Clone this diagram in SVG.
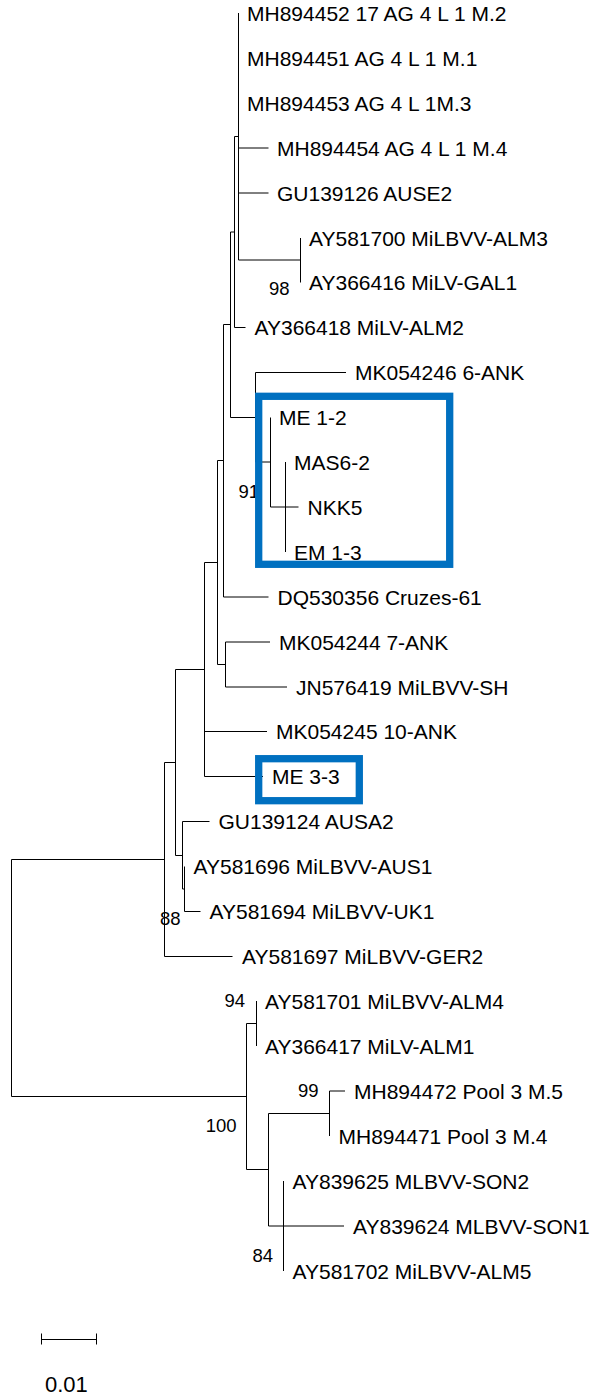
<svg xmlns="http://www.w3.org/2000/svg" width="596" height="1397" viewBox="0 0 596 1397">
<style>
.br{fill:none;stroke:#000;stroke-width:1}
.lb{font-family:"Liberation Sans",Arial,sans-serif;font-size:21px;fill:#000}
.bs{font-family:"Liberation Sans",Arial,sans-serif;font-size:18.5px;fill:#000}
.box{fill:none;stroke:#0070C0;stroke-width:7.3}
</style>
<rect width="596" height="1397" fill="#fff"/>
<g id="connectors" class="br">
<path d="M300.5,238V282.5"/>
<path d="M238.5,13V260M238.5,148H268.5M238.5,193H268.5M238.5,260H300.5"/>
<path d="M234.5,136.5H238.5M234.5,136.5V327.5H245.5"/>
<path d="M230.5,232H234.5M230.5,232V417.5"/>
<path d="M255.5,372.5V462M255.5,372.5H346M230.5,417.5H255.5"/>
<path d="M270.5,417.5V507M255.5,462H270.5"/>
<path d="M285.5,462V552M270.5,507H298.5"/>
<path d="M223.5,324.5V597M223.5,324.5H230.5M223.5,597H268.5"/>
<path d="M225.5,642V687M225.5,642H270M225.5,687H287"/>
<path d="M217.5,460.5V664.5M217.5,460.5H223.5M217.5,664.5H225.5"/>
<path d="M204.5,562.5V776.5M204.5,562.5H217.5M204.5,731.5H267M204.5,776.5H263"/>
<path d="M184.5,866.5V911.5M184.5,911.5H200.5"/>
<path d="M182.5,821.5V889M182.5,821.5H209.5M182.5,889H184.5"/>
<path d="M175.5,669.5V855.5M175.5,669.5H204.5M175.5,855.5H182.5"/>
<path d="M164.5,762.5V956.5M164.5,762.5H175.5M164.5,956.5H232.5"/>
<path d="M11.5,859.5V1096.5M11.5,859.5H164.5M11.5,1096.5H246.5"/>
<path d="M256.5,1001V1046M246.5,1023.5H256.5"/>
<path d="M329.5,1091V1136M329.5,1091H345"/>
<path d="M283.5,1181V1271M268.5,1226H344"/>
<path d="M268.5,1113.5V1226M268.5,1113.5H329.5"/>
<path d="M246.5,1023.5V1169.5M246.5,1169.5H268.5"/>
</g>
<g id="bootstrap" class="bs">
<text x="289.5" y="295" text-anchor="end">98</text>
<text x="238.5" y="498">91</text>
<text x="160" y="925">88</text>
<text x="245" y="1006.5" text-anchor="end">94</text>
<text x="318.5" y="1096.5" text-anchor="end">99</text>
<text x="236.5" y="1131.5" text-anchor="end">100</text>
<text x="273" y="1261.5" text-anchor="end">84</text>
</g>
<g id="leaves" class="lb">
<g id="n0"><text x="247" y="20.5">MH894452 17 AG 4 L 1 M.2</text></g>
<g id="n1"><text x="247" y="65.5">MH894451 AG 4 L 1 M.1</text></g>
<g id="n2"><text x="247" y="110.5">MH894453 AG 4 L 1M.3</text></g>
<g id="n3"><text x="277" y="155.5">MH894454 AG 4 L 1 M.4</text></g>
<g id="n4"><text x="277" y="200.5">GU139126 AUSE2</text></g>
<g id="n5"><text x="309" y="245.5">AY581700 MiLBVV-ALM3</text></g>
<g id="n6"><text x="309" y="290">AY366416 MiLV-GAL1</text></g>
<g id="n7"><text x="254.5" y="335">AY366418 MiLV-ALM2</text></g>
<g id="n8"><text x="355" y="380">MK054246 6-ANK</text></g>
<g id="n9"><text x="279" y="425">ME 1-2</text></g>
<g id="n10"><text x="294" y="469.5">MAS6-2</text></g>
<g id="n11"><text x="307.5" y="514.5">NKK5</text></g>
<g id="n12"><text x="294" y="559.5">EM 1-3</text></g>
<g id="n13"><text x="277.5" y="604.5">DQ530356 Cruzes-61</text></g>
<g id="n14"><text x="279" y="649.5">MK054244 7-ANK</text></g>
<g id="n15"><text x="296" y="694.5">JN576419 MiLBVV-SH</text></g>
<g id="n16"><text x="276" y="739">MK054245 10-ANK</text></g>
<g id="n17"><text x="272" y="784">ME 3-3</text></g>
<g id="n18"><text x="218.5" y="829">GU139124 AUSA2</text></g>
<g id="n19"><text x="193.5" y="874">AY581696 MiLBVV-AUS1</text></g>
<g id="n20"><text x="209.5" y="919">AY581694 MiLBVV-UK1</text></g>
<g id="n21"><text x="242" y="964">AY581697 MiLBVV-GER2</text></g>
<g id="n22"><text x="265" y="1008.5">AY581701 MiLBVV-ALM4</text></g>
<g id="n23"><text x="265" y="1053.5">AY366417 MiLV-ALM1</text></g>
<g id="n24"><text x="354" y="1098.5">MH894472 Pool 3 M.5</text></g>
<g id="n25"><text x="338.5" y="1143.5">MH894471 Pool 3 M.4</text></g>
<g id="n26"><text x="292.5" y="1188.5">AY839625 MLBVV-SON2</text></g>
<g id="n27"><text x="353" y="1233.5">AY839624 MLBVV-SON1</text></g>
<g id="n28"><text x="292.5" y="1278.5">AY581702 MiLBVV-ALM5</text></g>
</g>
<g id="highlights">
<rect class="box" x="258.7" y="396.3" width="191" height="168"/>
<rect class="box" x="258.7" y="758.7" width="100.6" height="42"/>
</g>
<g id="scale">
<path class="br" d="M41.5,1339.5H96.5M41.5,1333.5V1344.5M96.5,1333.5V1344.5"/>
<text x="45" y="1391.5" style="font-family:'Liberation Sans',Arial,sans-serif;font-size:22px">0.01</text>
</g>
</svg>
